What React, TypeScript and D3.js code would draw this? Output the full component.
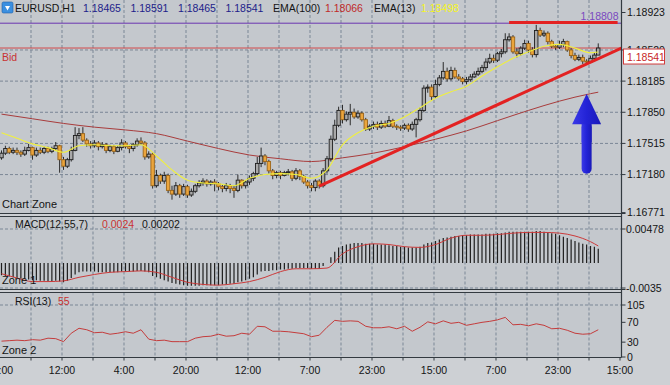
import React from 'react';
import * as d3 from 'd3';

// ---------- data ----------
const symbol = 'EURUSD,H1';
const headerOHLC = [1.18465, 1.18591, 1.18465, 1.18541];
const ema100Last = 1.18066;
const ema13Last = 1.18498;
const macdLabelVals = ['0.0024', '0.00202'];
const rsiLabelVal = '55';

const open0 = 1.1736;
const closes = [
  1.1741, 1.1746, 1.1742, 1.1744, 1.1742, 1.1740, 1.1744, 1.1747, 1.1739, 1.1744,
  1.1742, 1.1746, 1.1743, 1.1746, 1.1749, 1.1734, 1.1727, 1.1734, 1.1744, 1.1760,
  1.1762, 1.1755, 1.1751, 1.1749, 1.1752, 1.1748, 1.1750, 1.1744, 1.1748, 1.1743,
  1.1747, 1.1752, 1.1748, 1.1746, 1.1750, 1.1754, 1.1752, 1.1737, 1.1740, 1.1706,
  1.1717, 1.1711, 1.1717, 1.1701, 1.1697, 1.1706, 1.1697, 1.1705, 1.1696, 1.1700,
  1.1706, 1.1709, 1.1711, 1.1708, 1.1710, 1.1708, 1.1705, 1.1703, 1.1706, 1.1703,
  1.1701, 1.1712, 1.1706, 1.1710, 1.1714, 1.1719, 1.1730, 1.1738, 1.1732, 1.1722,
  1.1717, 1.1720, 1.1717, 1.1720, 1.1721, 1.1714, 1.1722, 1.1716, 1.1710, 1.1706,
  1.1704, 1.1711, 1.1706, 1.1722, 1.1735, 1.1756, 1.1771, 1.1787, 1.1777, 1.1783,
  1.1785, 1.1780, 1.1784, 1.1777, 1.1767, 1.1770, 1.1772, 1.1769, 1.1773, 1.1770,
  1.1776, 1.1770, 1.1769, 1.1768, 1.1771, 1.1767, 1.1772, 1.1777, 1.1787, 1.1811,
  1.1812, 1.1802, 1.1815, 1.1822, 1.1829, 1.1821, 1.1830, 1.1823, 1.1821, 1.1818,
  1.1820, 1.1823, 1.1826, 1.1829, 1.1833, 1.1839, 1.1843, 1.1841, 1.1848, 1.1850,
  1.1863, 1.1866, 1.1850, 1.1848, 1.1854, 1.1859, 1.1852, 1.1847, 1.1873, 1.1868,
  1.1870, 1.1861, 1.1856, 1.1855, 1.1858, 1.1861, 1.1852, 1.1846, 1.1842, 1.1844,
  1.1840, 1.1839, 1.1843, 1.18465, 1.18541,
];
const highs = [
  1.1744, 1.1749, 1.1748, 1.1747, 1.1747, 1.1744, 1.1748, 1.1751, 1.1748, 1.1747,
  1.1747, 1.1748, 1.1748, 1.1748, 1.1753, 1.1750, 1.1737, 1.1736, 1.1748, 1.1769,
  1.1768, 1.1769, 1.1757, 1.1754, 1.1755, 1.1754, 1.1753, 1.1752, 1.1750, 1.1750,
  1.1749, 1.1756, 1.1754, 1.1750, 1.1752, 1.1757, 1.1758, 1.1754, 1.1743, 1.1742,
  1.1723, 1.1719, 1.1721, 1.1719, 1.1706, 1.1710, 1.1708, 1.1708, 1.1707, 1.1703,
  1.1708, 1.1712, 1.1714, 1.1713, 1.1712, 1.1713, 1.1710, 1.1707, 1.1709, 1.1708,
  1.1706, 1.1718, 1.1713, 1.1712, 1.1717, 1.1721, 1.1737, 1.1747, 1.1740, 1.1734,
  1.1724, 1.1722, 1.1722, 1.1722, 1.1724, 1.1723, 1.1725, 1.1724, 1.1718, 1.1712,
  1.1709, 1.1713, 1.1713, 1.1725, 1.1738, 1.1760, 1.1777, 1.1791, 1.1793, 1.1786,
  1.1794, 1.1789, 1.1787, 1.1786, 1.1779, 1.1772, 1.1775, 1.1775, 1.1776, 1.1776,
  1.1781, 1.1778, 1.1772, 1.1771, 1.1773, 1.1773, 1.1775, 1.1779, 1.1790, 1.1814,
  1.1815, 1.1815, 1.1820, 1.1825, 1.1839, 1.1833, 1.1834, 1.1833, 1.1826, 1.1823,
  1.1823, 1.1826, 1.1829, 1.1833, 1.1836, 1.1843, 1.1848, 1.1847, 1.1850, 1.1853,
  1.1870, 1.1870, 1.1868, 1.1854, 1.1856, 1.1863, 1.1862, 1.1855, 1.1879, 1.1876,
  1.1873, 1.1872, 1.1863, 1.1858, 1.1862, 1.1864, 1.1862, 1.1854, 1.1849, 1.1847,
  1.1847, 1.1842, 1.1846, 1.1849, 1.18591,
];
const lows = [
  1.1734, 1.1739, 1.1740, 1.1740, 1.1739, 1.1737, 1.1738, 1.1743, 1.1734, 1.1737,
  1.1740, 1.1740, 1.1741, 1.1741, 1.1744, 1.1720, 1.1723, 1.1725, 1.1732, 1.1743,
  1.1756, 1.1753, 1.1748, 1.1746, 1.1747, 1.1744, 1.1746, 1.1741, 1.1742, 1.1740,
  1.1742, 1.1744, 1.1746, 1.1741, 1.1743, 1.1748, 1.1750, 1.1734, 1.1735, 1.1703,
  1.1704, 1.1708, 1.1708, 1.1698, 1.1691, 1.1695, 1.1693, 1.1695, 1.1693, 1.1694,
  1.1698, 1.1704, 1.1706, 1.1705, 1.1706, 1.1700, 1.1701, 1.1699, 1.1700, 1.1698,
  1.1693, 1.1699, 1.1703, 1.1703, 1.1707, 1.1711, 1.1717, 1.1726, 1.1728, 1.1719,
  1.1713, 1.1714, 1.1713, 1.1716, 1.1717, 1.1711, 1.1712, 1.1712, 1.1708, 1.1703,
  1.1700, 1.1700, 1.1703, 1.1704, 1.1719, 1.1732, 1.1754, 1.1769, 1.1773, 1.1775,
  1.1771, 1.1778, 1.1778, 1.1775, 1.1765, 1.1765, 1.1767, 1.1766, 1.1767, 1.1768,
  1.1769, 1.1768, 1.1766, 1.1765, 1.1766, 1.1764, 1.1765, 1.1758, 1.1775, 1.1785,
  1.1806, 1.1798, 1.1800, 1.1813, 1.1820, 1.1818, 1.1819, 1.1821, 1.1819, 1.1815,
  1.1815, 1.1818, 1.1822, 1.1824, 1.1827, 1.1830, 1.1837, 1.1838, 1.1839, 1.1844,
  1.1848, 1.1861, 1.1848, 1.1844, 1.1846, 1.1852, 1.1849, 1.1844, 1.1844, 1.1866,
  1.1866, 1.1858, 1.1854, 1.1852, 1.1853, 1.1855, 1.1850, 1.1843, 1.1840, 1.1840,
  1.1837, 1.1837, 1.1838, 1.1841, 1.18465,
];

// EMA(13) read every 4th bar (last point = last bar)
const ema13Bars = [...d3.range(0, 153, 4), 154];
const ema13 = [
  1.1763, 1.1757, 1.1751, 1.1747, 1.1742, 1.1749, 1.1750, 1.1749, 1.1749, 1.1750,
  1.1738, 1.1723, 1.1712, 1.1709, 1.1708, 1.1706, 1.1714, 1.1718, 1.1719, 1.1718,
  1.1714, 1.1723, 1.1750, 1.1763, 1.1770, 1.1773, 1.1780, 1.1790, 1.1800, 1.1807,
  1.1813, 1.1824, 1.1834, 1.1843, 1.1850, 1.1856, 1.1858, 1.1854, 1.1849, 1.18498,
];
// EMA(100) read every 8th bar
const ema100Bars = [...d3.range(0, 153, 8), 154];
const ema100 = [
  1.1783, 1.1778, 1.1773, 1.1769, 1.1766, 1.1762, 1.1754, 1.1746, 1.1739, 1.1735,
  1.1732, 1.1736, 1.1741, 1.1748, 1.1756, 1.1765, 1.1776, 1.1787, 1.1797, 1.1805,
  1.18066,
];

// MACD(12,55,7) main histogram, per bar
const macdMain = [
  -0.0017, -0.0018, -0.0019, -0.0020, -0.0021, -0.0022, -0.0022, -0.0023, -0.0024, -0.0024,
  -0.0025, -0.0025, -0.0026, -0.0026, -0.0025, -0.0026, -0.0027, -0.0025,
  -0.0021, -0.0016, -0.0013, -0.0012, -0.0012, -0.0012, -0.0012, -0.0013,
  -0.0013, -0.0013, -0.0013, -0.0013, -0.0013, -0.0012, -0.0012, -0.0012, -0.0012, -0.0011, -0.0011, -0.0012,
  -0.0013, -0.0018, -0.0020, -0.0022, -0.0024, -0.0026, -0.0028, -0.0029, -0.0030, -0.0031,
  -0.0032, -0.0032, -0.0032, -0.0032, -0.0031, -0.0031, -0.0031, -0.0031, -0.0031, -0.0030,
  -0.0030, -0.0029, -0.0029, -0.0027, -0.0026, -0.0024, -0.0022, -0.0020,
  -0.0016, -0.0012, -0.0011, -0.0011, -0.0010, -0.0010, -0.0009, -0.0009,
  -0.0008, -0.0008, -0.0007, -0.0007, -0.0007, -0.0007, -0.0008, -0.0008, -0.0008,
  -0.0004, 0.0000, 0.0008, 0.0016, 0.0022, 0.0024, 0.0026, 0.0027, 0.0028, 0.0028,
  0.0028, 0.0027, 0.0027, 0.0027, 0.0026, 0.0026, 0.0026, 0.0025, 0.0024, 0.0024, 0.0023, 0.0023, 0.0022, 0.0022,
  0.0022, 0.0023, 0.0026, 0.0028, 0.0029, 0.0031, 0.0033, 0.0035, 0.0036,
  0.0037, 0.0038, 0.0038, 0.0039, 0.0039, 0.0040, 0.0040, 0.0040, 0.0040, 0.0041, 0.0041, 0.0041, 0.0042, 0.0042, 0.0043,
  0.0044, 0.0044, 0.0044, 0.0044, 0.0044, 0.0044, 0.0044, 0.0045, 0.0045, 0.0044, 0.0043, 0.0042, 0.0041,
  0.0039, 0.0037, 0.0035, 0.0033, 0.0031, 0.0029, 0.0027, 0.0026, 0.0024, 0.0023, 0.0020,
];
// MACD signal read every 4th bar
const signalBars = [...d3.range(0, 153, 4), 154];
const macdSignal = [
  -0.0015, -0.0021, -0.0026, -0.0026, -0.0025, -0.0020, -0.0016, -0.0013, -0.0012, -0.0011,
  -0.0013, -0.0020, -0.0027, -0.0030, -0.0031, -0.0029, -0.0026, -0.0020, -0.0012, -0.0008,
  -0.0008, -0.0007, 0.0013, 0.0023, 0.0027, 0.0026, 0.0023, 0.0022, 0.0026, 0.0035,
  0.0039, 0.0039, 0.0040, 0.0042, 0.0043, 0.0043, 0.0042, 0.0038, 0.0030, 0.0024,
];
// RSI(13) read every 2nd bar
const rsiBars = d3.range(0, 155, 2);
const rsi = [
  32, 33, 34, 33, 35, 34, 38, 37, 31, 48,
  58, 55, 49, 50, 46, 48, 51, 48, 55, 36,
  33, 34, 31, 31, 31, 38, 41, 42, 46, 42,
  43, 48, 46, 62, 61, 52, 52, 51, 49, 47,
  41, 44, 60, 74, 72, 73, 72, 62, 59, 59,
  61, 57, 62, 52, 60, 71, 67, 73, 68, 70,
  64, 67, 70, 72, 75, 80, 65, 66, 63, 67,
  64, 57, 58, 54, 48, 46, 47, 55,
];

const timeLabels = ['20:00', '12:00', '4:00', '20:00', '12:00', '7:00', '23:00', '15:00', '7:00', '23:00', '15:00'];
const priceTicks = [1.18923, 1.1852, 1.18185, 1.1785, 1.17515, 1.1718, 1.16771];
const priceTickText = ['1.18923', '1.18520', '1.18185', '1.17850', '1.17515', '1.17180', '1.16771'];
const macdTicks = [0.00478, -0.0035];
const macdTickText = ['0.00478', '-0.0035'];
const rsiTicks = [105, 70, 30, 0];

// drawn objects
const levelLine = 1.18808;
const resistance = { bars: [131, 159], price: 1.18815 };
const trendline = { bars: [82, 160], prices: [1.17055, 1.18541] };
const arrow = { bar: 151, tip: 1.1805, base: 1.1772, tail: 1.1719 };

const FONT = "'Liberation Sans', Arial, sans-serif";

export default function App() {
  const W = 670;
  const H = 385;
  const R = 621.5;
  const MAIN_B = 213.5;
  const MACD_T = 216.5;
  const MACD_B = 289.5;
  const RSI_T = 292.5;
  const RSI_B = 357.5;

  const x = d3.scaleLinear().domain([0, 160]).range([0, 620]);
  const cx = (i: number) => x(i + 0.387);
  const y = d3.scaleLinear().domain([1.16771, 1.18923]).range([212.6, 12.5]);
  const ym = d3.scaleLinear().domain([-0.0035, 0.00478]).range([288, 229]);
  const yr = d3.scaleLinear().domain([0, 105]).range([357, 305]);

  const n = closes.length;
  const opens = closes.map((_, i) => (i === 0 ? open0 : closes[i - 1]));

  const lineOf = (bars: number[], vals: number[], sy: (v: number) => number, curve = d3.curveMonotoneX) =>
    d3
      .line<number>()
      .x((_, j) => cx(bars[j]))
      .y((v) => sy(v))
      .curve(curve)(vals) || '';

  const gridX = d3.range(1, 20).map((k) => x(8 * k));
  const gridColor = '#7b8796';
  const dash = '3,2';
  const plotBg = '#c4c8cd';
  const outerBg = '#cdd0d4';
  const border = '#333a40';

  const bid = closes[n - 1];

  const ax = cx(arrow.bar);
  const arrowHead = `M${ax},${y(arrow.tip)} L${ax + 14.5},${y(arrow.base)} L${ax - 14.5},${y(arrow.base)} Z`;

  return (
    <svg
      width={W}
      height={H}
      style={{ position: 'absolute', left: 0, top: 0, fontFamily: FONT }}
    >
      <defs>
        <clipPath id="cMain">
          <rect x={0} y={0} width={R} height={MAIN_B} />
        </clipPath>
        <clipPath id="cMacd">
          <rect x={0} y={MACD_T} width={R} height={MACD_B - MACD_T} />
        </clipPath>
        <clipPath id="cRsi">
          <rect x={0} y={RSI_T} width={R} height={RSI_B - RSI_T} />
        </clipPath>
        <linearGradient id="arrowGrad" x1="0" x2="1" y1="0" y2="0">
          <stop offset="0" stopColor="#3a3ae8" />
          <stop offset="0.5" stopColor="#2323d6" />
          <stop offset="1" stopColor="#1a1ab8" />
        </linearGradient>
      </defs>
      <rect x={0} y={0} width={W} height={H} fill={outerBg} />
      <rect x={0} y={0} width={R} height={MAIN_B} fill={plotBg} />
      <rect x={0} y={MACD_T} width={R} height={MACD_B - MACD_T} fill={plotBg} />
      <rect x={0} y={RSI_T} width={R} height={RSI_B - RSI_T} fill={plotBg} />

      {/* ---------- main panel ---------- */}
      <g clipPath="url(#cMain)">
        {gridX.map((gx, k) => (
          <line key={'gv' + k} x1={gx} x2={gx} y1={0} y2={MAIN_B} stroke={gridColor} strokeDasharray={dash} />
        ))}
        {priceTicks.slice(1, -1).map((p, k) => (
          <line key={'gh' + k} x1={0} x2={R} y1={y(p)} y2={y(p)} stroke={gridColor} strokeDasharray={dash} />
        ))}
        {/* level + bid lines */}
        <line x1={0} x2={R} y1={y(levelLine)} y2={y(levelLine)} stroke="#6a35b0" strokeWidth={1} />
        <line x1={0} x2={R} y1={y(bid)} y2={y(bid)} stroke="#d24a4a" strokeWidth={1} />
        {/* EMA 100 */}
        <path d={lineOf(ema100Bars, ema100, y)} fill="none" stroke="#a83c3c" strokeWidth={1} />
        {/* candles */}
        {closes.map((c, i) => {
          const o = opens[i];
          const bull = c >= o;
          const xc = cx(i);
          const top = y(Math.max(o, c));
          const bot = y(Math.min(o, c));
          return (
            <g key={'c' + i}>
              <line x1={xc} x2={xc} y1={y(highs[i])} y2={y(lows[i])} stroke="#2b2b2b" strokeWidth={1} />
              <rect
                x={xc - 1.7}
                y={top}
                width={3.4}
                height={Math.max(bot - top, 1)}
                fill={bull ? '#a9a9a9' : '#eba53c'}
                stroke={bull ? '#1e1e1e' : '#9c6518'}
                strokeWidth={0.9}
              />
            </g>
          );
        })}
        {/* EMA 13 */}
        <path d={lineOf(ema13Bars, ema13, y)} fill="none" stroke="#f0f03c" strokeWidth={1.1} />
        {/* trend line and resistance */}
        <line
          x1={cx(trendline.bars[0])}
          y1={y(trendline.prices[0])}
          x2={cx(trendline.bars[1])}
          y2={y(trendline.prices[1])}
          stroke="#e32222"
          strokeWidth={3}
        />
        <line
          x1={cx(resistance.bars[0])}
          x2={cx(resistance.bars[1])}
          y1={y(resistance.price)}
          y2={y(resistance.price)}
          stroke="#e32222"
          strokeWidth={3}
        />
        {/* arrow */}
        <rect x={ax - 5} y={y(arrow.base) - 2} width={10} height={y(arrow.tail) - y(arrow.base) + 2} rx={5} fill="url(#arrowGrad)" />
        <rect x={ax - 5} y={y(arrow.base) - 2} width={10} height={20} fill="url(#arrowGrad)" />
        <path d={arrowHead} fill="url(#arrowGrad)" />
        <text x={R - 3} y={y(levelLine) - 3} textAnchor="end" fontSize={10.5} fill="#7a48c0">
          {levelLine.toFixed(5)}
        </text>
      </g>
      {/* header */}
      <rect x={2} y={2} width={11} height={11} rx={1.5} fill="#3b8fe0" stroke="#1f5fa8" strokeWidth={0.6} />
      <path d="M5,6 L10,6 L7.5,10.5 Z" fill="#ffffff" />
      <text y={12} fontSize={10.5}>
        <tspan x={15} fill="#141414">{symbol}</tspan>
        {headerOHLC.map((v, k) => (
          <tspan key={'h' + k} x={83 + k * 47.5} fill="#1d1d8a">
            {v.toFixed(5)}
          </tspan>
        ))}
        <tspan x={273} fill="#141414">EMA(100)</tspan>
        <tspan x={325} fill="#c02a2a">{ema100Last.toFixed(5)}</tspan>
        <tspan x={374} fill="#141414">EMA(13)</tspan>
        <tspan x={421} fill="#f5f51e">{ema13Last.toFixed(5)}</tspan>
      </text>
      <text x={2} y={61} fontSize={10.5} fill="#c83232">Bid</text>
      <text x={2} y={208} fontSize={11} fill="#141414">Chart Zone</text>

      {/* ---------- MACD panel ---------- */}
      <g clipPath="url(#cMacd)">
        {gridX.map((gx, k) => (
          <line key={'mv' + k} x1={gx} x2={gx} y1={MACD_T} y2={MACD_B} stroke={gridColor} strokeDasharray={dash} />
        ))}
        {macdTicks.map((v, k) => (
          <line key={'mh' + k} x1={0} x2={R} y1={ym(v)} y2={ym(v)} stroke={gridColor} strokeDasharray={dash} />
        ))}
        {macdMain.map((v, i) => (
          <line key={'mb' + i} x1={cx(i)} x2={cx(i)} y1={ym(0)} y2={ym(v)} stroke="#1e1e1e" strokeWidth={1.2} />
        ))}
        <path d={lineOf(signalBars, macdSignal, ym)} fill="none" stroke="#cc3a3a" strokeWidth={1} />
      </g>
      <text y={228} fontSize={10.5}>
        <tspan x={15} fill="#141414">MACD(12,55,7)</tspan>
        <tspan x={102} fill="#c83232">{macdLabelVals[0]}</tspan>
        <tspan x={142} fill="#141414">{macdLabelVals[1]}</tspan>
      </text>
      <text x={2} y={284} fontSize={11} fill="#141414">Zone 1</text>

      {/* ---------- RSI panel ---------- */}
      <g clipPath="url(#cRsi)">
        {gridX.map((gx, k) => (
          <line key={'rv' + k} x1={gx} x2={gx} y1={RSI_T} y2={RSI_B} stroke={gridColor} strokeDasharray={dash} />
        ))}
        <line x1={0} x2={R} y1={yr(rsiTicks[0])} y2={yr(rsiTicks[0])} stroke={gridColor} strokeDasharray={dash} />
        <path d={lineOf(rsiBars, rsi, yr, d3.curveLinear)} fill="none" stroke="#c43c3c" strokeWidth={1} />
      </g>
      <text y={305} fontSize={10.5}>
        <tspan x={15} fill="#141414">RSI(13)</tspan>
        <tspan x={58} fill="#c83232">{rsiLabelVal}</tspan>
      </text>
      <text x={2} y={354} fontSize={11} fill="#141414">Zone 2</text>

      {/* ---------- borders ---------- */}
      <line x1={0} x2={R + 4} y1={MAIN_B} y2={MAIN_B} stroke={border} strokeWidth={1.2} />
      <line x1={0} x2={R} y1={MACD_T} y2={MACD_T} stroke={border} strokeWidth={1.2} />
      <line x1={0} x2={R + 4} y1={MACD_B} y2={MACD_B} stroke={border} strokeWidth={1.2} />
      <line x1={0} x2={R} y1={RSI_T} y2={RSI_T} stroke={border} strokeWidth={1.2} />
      <line x1={0} x2={R} y1={RSI_B} y2={RSI_B} stroke={border} strokeWidth={1.2} />
      <line x1={R} x2={R} y1={0} y2={RSI_B} stroke={border} strokeWidth={1.2} />

      {/* right axes */}
      {priceTicks.map((p, k) => (
        <g key={'pt' + k}>
          <line x1={R} x2={R + 4} y1={y(p)} y2={y(p)} stroke={border} />
          <text x={627} y={y(p) + 3.8} fontSize={10.5} fill="#141414">
            {priceTickText[k]}
          </text>
        </g>
      ))}
      <rect x={623.5} y={y(bid) + 1} width={41} height={15} fill="#ffffff" stroke="#d23c3c" strokeWidth={1} />
      <text x={627} y={y(bid) + 12.5} fontSize={10.5} fill="#c82828">
        {bid.toFixed(5)}
      </text>
      {macdTicks.map((v, k) => (
        <g key={'mt' + k}>
          <line x1={R} x2={R + 4} y1={ym(v)} y2={ym(v)} stroke={border} />
          <text x={626} y={ym(v) + 3.8} fontSize={10.5} fill="#141414">
            {macdTickText[k]}
          </text>
        </g>
      ))}
      {rsiTicks.map((v, k) => (
        <g key={'rt' + k}>
          <line x1={R} x2={R + 4} y1={yr(v)} y2={yr(v)} stroke={border} />
          <text x={627} y={yr(v) + 3.8} fontSize={10.5} fill="#141414">
            {v}
          </text>
        </g>
      ))}

      {/* time axis */}
      {gridX.concat([x(160)]).map((gx, k) => (
        <line key={'tt' + k} x1={gx} x2={gx} y1={RSI_B} y2={RSI_B + 3} stroke={border} />
      ))}
      {timeLabels.map((t, k) => (
        <text key={'tl' + k} x={x(16 * k)} y={374} fontSize={10.5} textAnchor="middle" fill="#141414">
          {t}
        </text>
      ))}
    </svg>
  );
}
